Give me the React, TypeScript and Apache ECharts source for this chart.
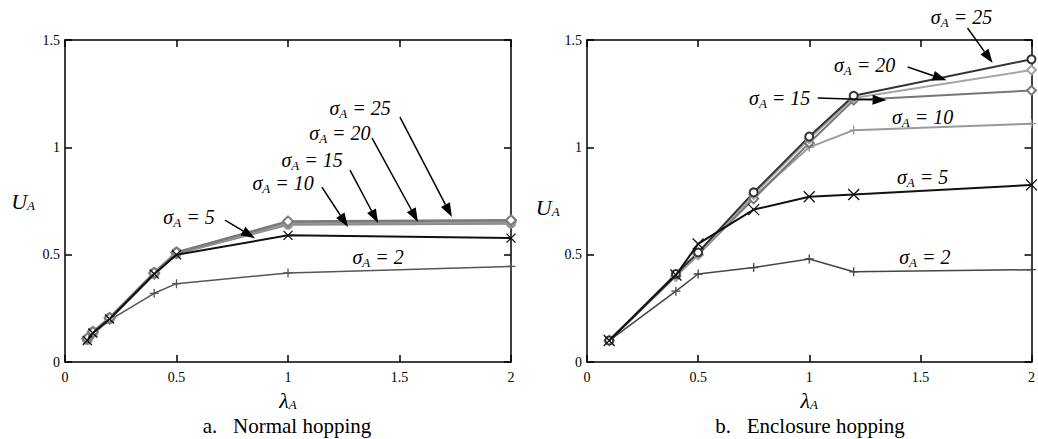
import React, { useEffect, useRef } from "react";
import * as echarts from "echarts";

// ---- data ----
const sigmas = [2, 5, 10, 15, 20, 25];

const lambdaNormal = [0.1, 0.125, 0.2, 0.4, 0.5, 1, 2];
const normal2 = [0.1, 0.13, 0.195, 0.32, 0.365, 0.415, 0.445];
const normal5 = [0.1, 0.135, 0.2, 0.41, 0.5, 0.59, 0.577];
const normal10 = [0.105, 0.135, 0.2, 0.41, 0.505, 0.64, 0.645];
const normal15 = [0.105, 0.135, 0.2, 0.41, 0.505, 0.645, 0.65];
const normal20 = [0.105, 0.14, 0.205, 0.415, 0.51, 0.65, 0.655];
const normal25 = [0.11, 0.14, 0.205, 0.415, 0.51, 0.655, 0.66];

const lambdaEnclosure = [0.1, 0.4, 0.5, 0.75, 1, 1.2, 2];
const encl2 = [0.1, 0.33, 0.41, 0.44, 0.48, 0.42, 0.43];
const encl5 = [0.1, 0.405, 0.55, 0.71, 0.77, 0.78, 0.825];
const encl10 = [0.1, 0.4, 0.5, 0.77, 1.0, 1.08, 1.11];
const encl15 = [0.1, 0.4, 0.5, 0.76, 1.02, 1.22, 1.265];
const encl20 = [0.1, 0.4, 0.5, 0.78, 1.04, 1.23, 1.36];
const encl25 = [0.1, 0.41, 0.51, 0.79, 1.05, 1.24, 1.41];

const xTicks = [0, 0.5, 1, 1.5, 2];
const yTicks = [0, 0.5, 1, 1.5];

// annotation label anchors (data coords) and arrows [from, to]
const normalLabels: [number, number, number][] = [
  [5, 0.556, 0.675],
  [10, 0.978, 0.834],
  [15, 1.108, 0.941],
  [20, 1.233, 1.067],
  [25, 1.323, 1.183],
  [2, 1.404, 0.489],
];
const normalArrows: [number, number, number, number][] = [
  [0.717, 0.661, 0.852, 0.577],
  [1.152, 0.815, 1.269, 0.629],
  [1.278, 0.894, 1.404, 0.647],
  [1.377, 1.043, 1.583, 0.652],
  [1.502, 1.141, 1.735, 0.675],
];
const enclLabels: [number, number, number][] = [
  [25, 1.685, 1.607],
  [20, 1.249, 1.383],
  [15, 0.867, 1.23],
  [10, 1.51, 1.141],
  [5, 1.51, 0.862],
  [2, 1.52, 0.489],
];
const enclArrows: [number, number, number, number][] = [
  [1.712, 1.556, 1.825, 1.393],
  [1.443, 1.374, 1.618, 1.313],
  [1.038, 1.23, 1.348, 1.22],
];

const SERIF = "'Liberation Serif', 'DejaVu Serif', serif";
const PLUS = "path://M5,0L5,10M0,5L10,5";
const CROSS = "path://M0,0L10,10M10,0L0,10";

const sigmaRich = {
  s: { fontSize: 20, fontFamily: SERIF, fontStyle: "italic", fill: "#000", lineHeight: 24 },
  a: { fontSize: 13, fontFamily: SERIF, fontStyle: "italic", fill: "#000", lineHeight: 12, verticalAlign: "bottom" },
};

function zip(xs: number[], ys: number[]) {
  return xs.map((x, i) => [x, ys[i]]);
}

function App() {
  const ref = useRef<HTMLDivElement>(null);
  useEffect(() => {
    const chart = echarts.init(ref.current!, null, { renderer: "svg" });

    const grids = [
      { left: 65, right: 527, top: 40, bottom: 77 },
      { left: 587, right: 6, top: 40, bottom: 77 },
    ];

    const nameRich = {
      i: { fontSize: 22, fontFamily: SERIF, fontStyle: "italic", color: "#000", lineHeight: 22 },
      s: { fontSize: 13, fontFamily: SERIF, fontStyle: "italic", color: "#000", lineHeight: 12, verticalAlign: "bottom" },
    };

    const xAxes: any[] = [];
    const yAxes: any[] = [];
    [0, 1].forEach((g) => {
      const common = {
        gridIndex: g,
        type: "value",
        min: xTicks[0],
        max: xTicks[xTicks.length - 1],
        interval: xTicks[1] - xTicks[0],
        splitLine: { show: false },
        axisLine: { show: true, onZero: false, lineStyle: { color: "#000", width: 1.5 } },
        axisTick: { show: true, inside: true, length: 7, lineStyle: { color: "#000", width: 1.5 } },
      };
      xAxes.push({
        ...common,
        position: "bottom",
        axisLabel: { color: "#000", fontFamily: SERIF, fontSize: 14, margin: 8 },
        name: "{i|λ}{s|A}",
        nameLocation: "middle",
        nameGap: 27,
        nameTextStyle: { rich: nameRich },
      });
      xAxes.push({ ...common, position: "top", axisLabel: { show: false } });
      const ycommon = {
        gridIndex: g,
        type: "value",
        min: yTicks[0],
        max: yTicks[yTicks.length - 1],
        interval: yTicks[1] - yTicks[0],
        splitLine: { show: false },
        axisLine: { show: true, onZero: false, lineStyle: { color: "#000", width: 1.5 } },
        axisTick: { show: true, inside: true, length: 7, lineStyle: { color: "#000", width: 1.5 } },
      };
      yAxes.push({
        ...ycommon,
        position: "left",
        axisLabel: { color: "#000", fontFamily: SERIF, fontSize: 14, margin: 5 },
        name: "{i|U}{s|A}",
        nameLocation: "middle",
        nameRotate: 0,
        nameGap: g === 0 ? 30 : 19,
        nameTextStyle: { rich: nameRich, padding: g === 0 ? 0 : [12, 0, 0, 0] },
      });
      yAxes.push({ ...ycommon, position: "right", axisLabel: { show: false } });
    });

    const normalData = [normal2, normal5, normal10, normal15, normal20, normal25];
    const enclData = [encl2, encl5, encl10, encl15, encl20, encl25];

    const normalStyle = [
      { c: "#555", w: 1.5, sym: PLUS, size: 9 },
      { c: "#111", w: 2, sym: CROSS, size: 9 },
      { c: "#8a8a8a", w: 2.5, sym: "emptyCircle", size: 8 },
      { c: "#909090", w: 2.5, sym: "emptyDiamond", size: 9 },
      { c: "#999", w: 2.5, sym: "emptyCircle", size: 9 },
      { c: "#7a7a7a", w: 2.5, sym: "emptyDiamond", size: 10 },
    ];
    const enclStyle = [
      { c: "#444", w: 1.5, sym: PLUS, size: 9 },
      { c: "#111", w: 2, sym: CROSS, size: 11 },
      { c: "#9a9a9a", w: 2, sym: PLUS, size: 9 },
      { c: "#777", w: 2, sym: "emptyDiamond", size: 9 },
      { c: "#a5a5a5", w: 2, sym: "emptyDiamond", size: 9 },
      { c: "#333", w: 2, sym: "emptyCircle", size: 8 },
    ];

    const series: any[] = [];
    const build = (xs: number[], data: number[][], styles: any[], axisIdx: number) => {
      data.forEach((ys, i) => {
        const st = styles[i];
        series.push({
          type: "line",
          name: `σ=${sigmas[i]}`,
          xAxisIndex: axisIdx,
          yAxisIndex: axisIdx,
          data: zip(xs, ys),
          symbol: st.sym,
          symbolSize: st.size,
          showAllSymbol: true,
          clip: false,
          lineStyle: { color: st.c, width: st.w },
          itemStyle: { color: st.c, borderColor: st.c, borderWidth: 1.3 },
          z: i === 1 ? 5 : 3,
        });
      });
    };
    build(lambdaNormal, normalData, normalStyle, 0);
    build(lambdaEnclosure, enclData, enclStyle, 2);

    const captionStyle = { fontFamily: SERIF, fontSize: 21, lineHeight: 21, fontWeight: "normal", color: "#000" };
    chart.setOption({
      animation: false,
      backgroundColor: "#fff",
      grid: grids,
      xAxis: xAxes,
      yAxis: yAxes,
      series,
      title: [
        {
          text: "a.\u00a0\u00a0\u00a0Normal hopping",
          left: 287,
          top: 415,
          padding: 0,
          textAlign: "center",
          textStyle: captionStyle,
        },
        {
          text: "b.\u00a0\u00a0\u00a0Enclosure hopping",
          left: 810,
          top: 415,
          padding: 0,
          textAlign: "center",
          textStyle: captionStyle,
        },
      ],
    });

    // annotations positioned through the axes' own scales
    const graphics: any[] = [];
    const toPx = (axisIdx: number, x: number, y: number) =>
      chart.convertToPixel({ xAxisIndex: axisIdx, yAxisIndex: axisIdx }, [x, y]) as number[];
    const addAnn = (
      axisIdx: number,
      labels: [number, number, number][],
      arrows: [number, number, number, number][]
    ) => {
      labels.forEach(([s, x, y]) => {
        const [px, py] = toPx(axisIdx, x, y);
        graphics.push({
          type: "text",
          x: px,
          y: py,
          z: 100,
          style: {
            text: `{s|σ}{a|A}{s| = ${s}}`,
            rich: sigmaRich,
            align: "center",
            verticalAlign: "middle",
          },
        });
      });
      arrows.forEach(([x1, y1, x2, y2]) => {
        const [ax, ay] = toPx(axisIdx, x1, y1);
        const [bx, by] = toPx(axisIdx, x2, y2);
        const dx = bx - ax;
        const dy = by - ay;
        const len = Math.sqrt(dx * dx + dy * dy);
        const ux = dx / len;
        const uy = dy / len;
        const hl = 14;
        const hw = 5;
        const baseX = bx - ux * hl;
        const baseY = by - uy * hl;
        graphics.push({
          type: "line",
          z: 100,
          shape: { x1: ax, y1: ay, x2: baseX, y2: baseY },
          style: { stroke: "#000", lineWidth: 1.5 },
        });
        graphics.push({
          type: "polygon",
          z: 100,
          shape: {
            points: [
              [bx, by],
              [baseX - uy * hw, baseY + ux * hw],
              [baseX + uy * hw, baseY - ux * hw],
            ],
          },
          style: { fill: "#000" },
        });
      });
    };
    addAnn(0, normalLabels, normalArrows);
    addAnn(2, enclLabels, enclArrows);
    chart.setOption({ graphic: graphics });

    return () => chart.dispose();
  }, []);
  return (
    <div
      ref={ref}
      style={{ position: "fixed", left: 0, top: 0, width: 1038, height: 439, background: "#fff" }}
    />
  );
}

export default App;
